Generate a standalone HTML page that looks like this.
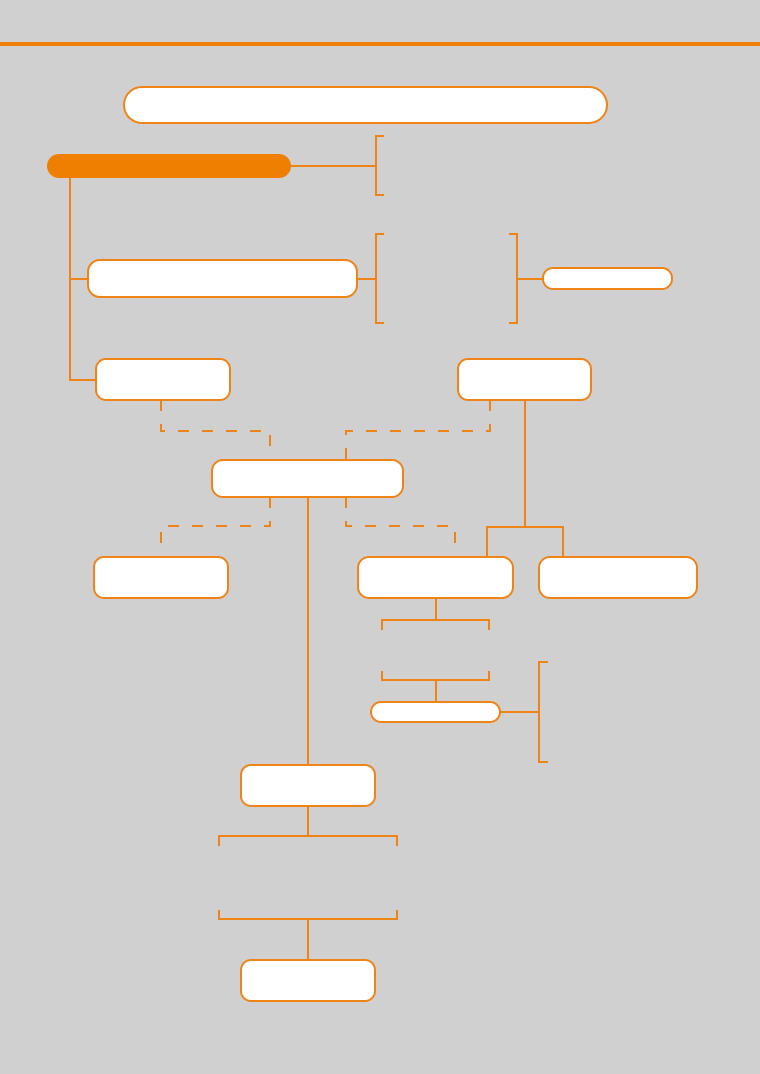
<!DOCTYPE html>
<html><head><meta charset="utf-8"><style>
html,body{margin:0;padding:0;background:#d0d0d0;}
svg{display:block}
</style></head><body>
<svg width="760" height="1074" viewBox="0 0 760 1074" xmlns="http://www.w3.org/2000/svg">
<rect width="760" height="1074" fill="#d0d0d0"/>
<rect x="0" y="42" width="760" height="4" fill="#ef7f0a"/>
<g fill="none" stroke="#ee8417" stroke-width="2">
<!-- solid connectors -->
<path d="M291 166H376M384 136H376V195H384"/>
<path d="M70 178V380H96M70 279H88M357 279H376M384 234H376V323H384"/>
<path d="M509 234H517V323H509M517 279H543"/>
<path d="M525 400V527M487 557V527H563V557"/>
<path d="M436 598V620M382 630V620H489V630"/>
<path d="M382 671V680H489V671M436 680V702"/>
<path d="M500 712H539M548 662H539V762H548"/>
<path d="M308 497V765M308 806V836M219 846V836H397V846"/>
<path d="M219 910V919H397V910M308 919V960"/>
<!-- dashed -->
<g stroke-dasharray="11 13">
<path d="M161 400V431H270V460"/>
<path d="M490 400V431H346V460"/>
<path d="M270 497V526H161V557"/>
<path d="M346 497V526H455V557"/>
</g>
</g>
<g fill="#fff" stroke="#ee8417" stroke-width="2">
<rect x="124" y="87" width="483" height="36" rx="18"/>
<rect x="88" y="260" width="269" height="37" rx="12"/>
<rect x="543" y="268" width="129" height="21" rx="10"/>
<rect x="96" y="359" width="134" height="41" rx="10"/>
<rect x="458" y="359" width="133" height="41" rx="10"/>
<rect x="212" y="460" width="191" height="37" rx="11"/>
<rect x="94" y="557" width="134" height="41" rx="10"/>
<rect x="358" y="557" width="155" height="41" rx="11"/>
<rect x="539" y="557" width="158" height="41" rx="11"/>
<rect x="371" y="702" width="129" height="20" rx="10"/>
<rect x="241" y="765" width="134" height="41" rx="10"/>
<rect x="241" y="960" width="134" height="41" rx="10"/>
</g>
<rect x="47" y="154" width="244" height="24" rx="12" fill="#ef7f00"/>
</svg>
</body></html>
